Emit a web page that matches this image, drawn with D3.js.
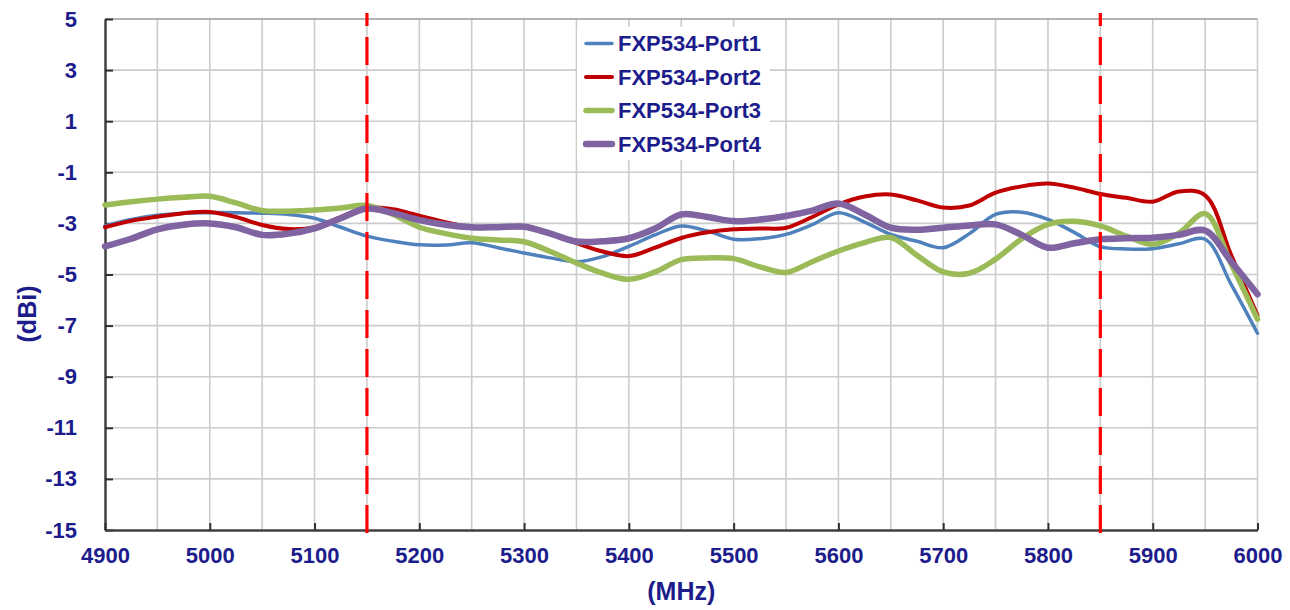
<!DOCTYPE html>
<html>
<meta charset="utf-8">
<style>
    body {
        margin: 0;
        background: #fff;
    }

    text {
        font-family: 'Liberation Sans', Arial, sans-serif;
        font-weight: bold;
        fill: #1c1c8c;
    }
</style>

<body>
    <svg id="chart" width="1290" height="610"></svg>
    <script src="https://d3js.org/d3.v7.min.js"></script>
    <script>
        // frequency points (MHz)
        const freqs = d3.range(4900, 6001, 25);

        const port1 = [-3.1, -2.85, -2.68, -2.6, -2.58, -2.58, -2.6, -2.65, -2.8, -3.15, -3.5, -3.7, -3.84, -3.85, -3.76,
            -3.95, -4.16, -4.35, -4.5, -4.3, -3.9, -3.45, -3.1, -3.3, -3.62, -3.6, -3.43, -3.05, -2.58, -2.95,
            -3.43, -3.7, -3.95, -3.4, -2.65, -2.56, -2.84, -3.35, -3.91, -4.0, -3.99, -3.8, -3.62, -5.4, -7.3];
        const port2 = [-3.15, -2.9, -2.74, -2.6, -2.55, -2.75, -3.06, -3.22, -3.15, -2.75, -2.38, -2.45, -2.7, -2.95, -3.15,
            -3.15, -3.1, -3.4, -3.77, -4.1, -4.28, -3.95, -3.57, -3.35, -3.23, -3.2, -3.17, -2.75, -2.26, -1.95,
            -1.87, -2.1, -2.38, -2.3, -1.8, -1.55, -1.44, -1.6, -1.85, -2.0, -2.15, -1.75, -1.9, -4.25, -6.6];
        const port3 = [-2.28, -2.15, -2.05, -1.98, -1.94, -2.2, -2.5, -2.52, -2.48, -2.4, -2.3, -2.65, -3.15, -3.4, -3.58,
            -3.65, -3.72, -4.1, -4.55, -4.95, -5.19, -4.9, -4.42, -4.35, -4.38, -4.7, -4.92, -4.5, -4.08, -3.75,
            -3.55, -4.25, -4.9, -4.95, -4.4, -3.6, -3.04, -2.92, -3.1, -3.5, -3.82, -3.38, -2.62, -4.6, -6.75];
        const port4 = [-3.9, -3.6, -3.23, -3.05, -3.0, -3.15, -3.45, -3.4, -3.19, -2.8, -2.42, -2.6, -2.87, -3.05, -3.15,
            -3.15, -3.13, -3.4, -3.71, -3.7, -3.58, -3.2, -2.65, -2.75, -2.91, -2.85, -2.71, -2.5, -2.22, -2.65,
            -3.17, -3.25, -3.17, -3.08, -3.04, -3.45, -3.95, -3.78, -3.62, -3.58, -3.56, -3.45, -3.28, -4.5, -5.77];

        const seriesNames = ["FXP534-Port1", "FXP534-Port2", "FXP534-Port3", "FXP534-Port4"];
        const seriesValues = [port1, port2, port3, port4];
        const seriesColors = ["#4f81bd", "#c00000", "#9bbb59", "#8064a2"];
        const seriesWidths = [3.5, 4, 5.5, 6.5];

        const bandEdges = [5150, 5850];
        const xTicks = d3.range(4900, 6001, 100);
        const yTicks = d3.range(-15, 6, 2);

        const chart = d3.select("#chart");

        const x = d3.scaleLinear().domain([4900, 6000]).range([105, 1257.5]);
        const y = d3.scaleLinear().domain([-15, 5]).range([530, 19]);

        // grid
        const grid = chart.append("g");
        grid.selectAll(".vgrid")
            .data(d3.range(4950, 6001, 50))
            .enter()
            .append("line")
            .attr("x1", d => x(d)).attr("x2", d => x(d))
            .attr("y1", y(5)).attr("y2", y(-15))
            .attr("stroke", "#cccccc")
            .attr("stroke-width", 1.6);
        grid.selectAll(".hgrid")
            .data(yTicks.filter(d => d > -15))
            .enter()
            .append("line")
            .attr("x1", x(4900)).attr("x2", x(6000))
            .attr("y1", d => y(d)).attr("y2", d => y(d))
            .attr("stroke", d => d == 5 ? "#9a9a9a" : "#cccccc")
            .attr("stroke-width", 1.6);

        // legend background
        chart.append("rect")
            .attr("x", 577).attr("y", 27)
            .attr("width", 193).attr("height", 133)
            .attr("fill", "#fff");

        // axes
        const yAxis = d3.axisLeft(y)
            .tickValues(yTicks)
            .tickSizeInner(-8)
            .tickSizeOuter(0)
            .tickPadding(28)
            .tickFormat(d => String(d));
        const xAxis = d3.axisBottom(x)
            .tickValues(xTicks)
            .tickSizeInner(-7)
            .tickSizeOuter(0)
            .tickPadding(17)
            .tickFormat(d => String(d));

        const gy = chart.append("g").attr("transform", "translate(" + x(4900) + ",0)").call(yAxis);
        const gx = chart.append("g").attr("transform", "translate(0," + y(-15) + ")").call(xAxis);

        [gx, gy].forEach(g => {
            g.select(".domain").attr("stroke", "#404040").attr("stroke-width", 2.5);
            g.selectAll(".tick line").attr("stroke", "#303030").attr("stroke-width", 2);
            g.selectAll(".tick text")
                .attr("fill", "#1c1c8c")
                .style("font-size", "22px")
                .style("font-family", "'Liberation Sans', Arial, sans-serif")
                .style("font-weight", "bold");
        });

        // series
        const line = d3.line()
            .x((d, i) => x(freqs[i]))
            .y(d => y(d))
            .curve(d3.curveCatmullRom.alpha(0.5));

        chart.append("g")
            .selectAll("path")
            .data(seriesValues)
            .enter()
            .append("path")
            .attr("d", d => line(d))
            .attr("fill", "none")
            .attr("stroke", (d, i) => seriesColors[i])
            .attr("stroke-width", (d, i) => seriesWidths[i])
            .attr("stroke-linejoin", "round")
            .attr("stroke-linecap", "round");

        // band edge markers, dashes start from the bottom
        chart.append("g")
            .selectAll("line")
            .data(bandEdges)
            .enter()
            .append("line")
            .attr("x1", d => x(d)).attr("x2", d => x(d))
            .attr("y1", 533).attr("y2", 13)
            .attr("stroke", "#ff0000")
            .attr("stroke-width", 3.2)
            .attr("stroke-dasharray", "28,11");

        // legend
        const legend = chart.append("g")
            .selectAll("g")
            .data(seriesNames)
            .enter()
            .append("g")
            .attr("transform", (d, i) => "translate(0," + (43.5 + i * 33.5) + ")");

        legend.append("line")
            .attr("x1", 586).attr("x2", 612)
            .attr("y1", 0).attr("y2", 0)
            .attr("stroke", (d, i) => seriesColors[i])
            .attr("stroke-width", (d, i) => seriesWidths[i])
            .attr("stroke-linecap", "round");

        legend.append("text")
            .attr("x", 618)
            .attr("y", 0)
            .attr("dy", "0.36em")
            .style("font-size", "22px")
            .text(d => d);

        // axis titles
        chart.append("text")
            .attr("x", x(5450))
            .attr("y", 600)
            .attr("text-anchor", "middle")
            .style("font-size", "25px")
            .text("(MHz)");

        chart.append("text")
            .attr("transform", "translate(36,314) rotate(-90)")
            .attr("text-anchor", "middle")
            .style("font-size", "25px")
            .text("(dBi)");
    </script>
</body>

</html>
